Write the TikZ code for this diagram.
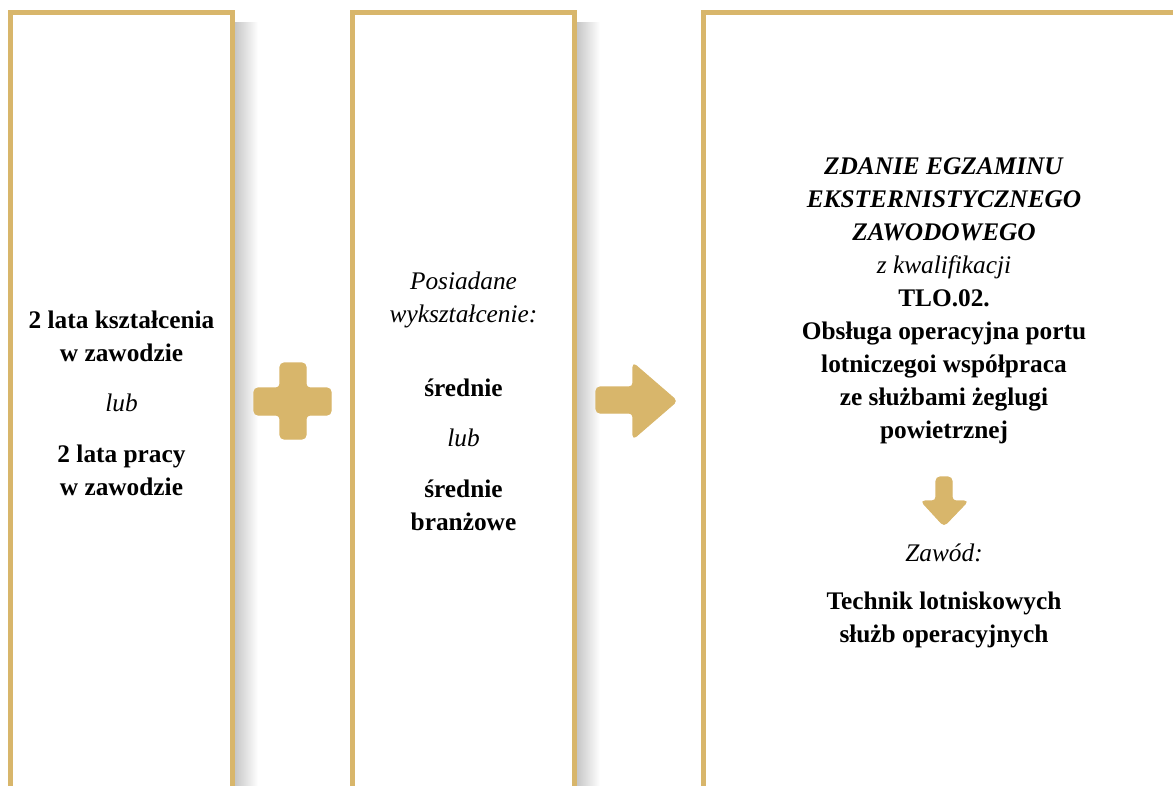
\documentclass[tikz,border=0pt]{standalone}
\usepackage{fontspec}
\setmainfont{Liberation Serif}
\usepackage{xcolor}
\usepackage{tikz}
\usetikzlibrary{positioning}
\definecolor{zloty}{RGB}{216,182,107}

\begin{document}
\begin{tikzpicture}[
    x=0.75pt, y=-0.75pt,
    ramka/.style={draw=zloty, line width=3.75pt},
    cien/.style={left color=black!22, right color=white},
    znak/.style={fill=zloty, draw=zloty, line width=0.8pt, rounded corners=3pt},
    gruby/.style={inner sep=0pt, align=center, font=\fontsize{19}{24.75}\selectfont\bfseries},
    kursywa/.style={inner sep=0pt, align=center, font=\fontsize{19}{24.75}\selectfont\itshape}
]
\useasboundingbox (0,0) rectangle (1173,785);

% cienie
\shade[cien] (235,22) rectangle (258,790);
\shade[cien] (577,22) rectangle (600,790);

% ramki
\draw[ramka] (10.5,790) -- (10.5,12.5) -- (232.5,12.5) -- (232.5,790);
\draw[ramka] (352.5,790) -- (352.5,12.5) -- (574.5,12.5) -- (574.5,790);
\draw[ramka] (703.5,790) -- (703.5,12.5) -- (1180,12.5);

% plus, strzalki
\fill[znak] (280,363) -- (306,363) -- (306,388) -- (331,388) -- (331,415) -- (306,415)
    -- (306,439) -- (280,439) -- (280,415) -- (254,415) -- (254,388) -- (280,388) -- cycle;
\fill[znak] (596,387) -- (633,387) -- (633,363) -- (677,401) -- (633,439) -- (633,413)
    -- (596,413) -- cycle;
\fill[znak] (936,477) -- (952,477) -- (952,501) -- (968,501) -- (944,526) -- (921,501)
    -- (936,501) -- cycle;

% kolumna 1
\node[gruby] (ksztalcenie) at (121.5,336.5) {2 lata kształcenia\\w zawodzie};
\node[kursywa] (lub1) at (121.5,403) {lub};
\node[gruby] (praca) at (121.5,470.5) {2 lata pracy\\w zawodzie};

% kolumna 2
\node[kursywa] (posiadane) at (463.5,300) {Posiadane\\wykształcenie:};
\node[gruby] (srednie) at (463.5,388) {średnie};
\node[kursywa] (lub2) at (463.5,438) {lub};
\node[gruby] (branzowe) at (463.5,505.5) {średnie\\branżowe};

% kolumna 3
\node[gruby] (egzamin) at (944,301) {\textit{ZDANIE EGZAMINU}\\\textit{EKSTERNISTYCZNEGO}\\
    \textit{ZAWODOWEGO}\\\mdseries\itshape z kwalifikacji\\TLO.02.\\Obsługa operacyjna portu\\
    lotniczegoi współpraca\\ze służbami żeglugi\\powietrznej};
\node[kursywa] (zawod) at (944,553) {Zawód:};
\node[gruby] (technik) at (944,619.5) {Technik lotniskowych\\służb operacyjnych};
\end{tikzpicture}
\end{document}
